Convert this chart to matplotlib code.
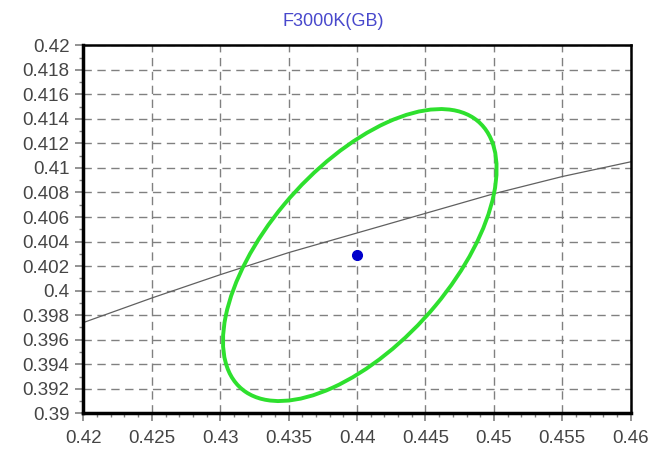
import matplotlib
matplotlib.use("Agg")
import matplotlib.pyplot as plt
from matplotlib.patches import Ellipse
from matplotlib.ticker import MultipleLocator
import numpy as np

# locus line
locus_x = [0.42, 0.425, 0.43, 0.435, 0.44, 0.445, 0.45, 0.455, 0.46]
locus_y = [0.3974, 0.3994, 0.4013, 0.4031, 0.4047, 0.4063, 0.4079, 0.4093, 0.4105]

# measured point
point_x = [0.4400]
point_y = [0.4029]

# tolerance ellipse: centre, half ranges in x / y, correlation
ell_center = (0.4402, 0.4029)
ell_half_x = 0.0100
ell_half_y = 0.0119
ell_corr = 0.59

plt.rcParams['font.family'] = ['Liberation Sans', 'DejaVu Sans']

fig = plt.figure(figsize=(6.52, 4.62), dpi=100)
ax = fig.add_axes([0.128, 0.1054, 0.8393, 0.7966])

# ellipse axes from the 2x2 shape matrix
m = np.array([[ell_half_x ** 2, ell_corr * ell_half_x * ell_half_y],
              [ell_corr * ell_half_x * ell_half_y, ell_half_y ** 2]])
vals, vecs = np.linalg.eigh(m)
ang = np.degrees(np.arctan2(vecs[1, 1], vecs[0, 1]))
ell = Ellipse(ell_center, 2 * np.sqrt(vals[1]), 2 * np.sqrt(vals[0]), angle=ang,
              fill=False, edgecolor="#2ee02e", lw=2.8, zorder=3)
ax.add_patch(ell)

ax.plot(locus_x, locus_y, color="#606060", lw=0.9, zorder=2)
ax.plot(point_x, point_y, "o", color="#0000cc", ms=7, zorder=4)

ax.set_xlim(0.42, 0.46)
ax.set_ylim(0.39, 0.42)
ax.xaxis.set_major_locator(MultipleLocator(0.005))
ax.xaxis.set_minor_locator(MultipleLocator(0.001))
ax.yaxis.set_major_locator(MultipleLocator(0.002))
ax.yaxis.set_minor_locator(MultipleLocator(0.001))


def fmt(v, pos):
    return f"{v:.3f}".rstrip("0").rstrip(".")


ax.xaxis.set_major_formatter(plt.FuncFormatter(fmt))
ax.yaxis.set_major_formatter(plt.FuncFormatter(fmt))

ax.grid(True, which="major", color="#808080", linestyle=(0, (6, 4)), lw=1.0)
ax.tick_params(which="both", direction="out", colors="#808080", labelcolor="#454545",
               labelsize=13.5, top=False, right=False)
ax.tick_params(which="major", length=6, width=1.2)
ax.tick_params(which="minor", length=3, width=1.0)
ax.tick_params(axis="x", pad=6)
ax.tick_params(axis="y", pad=4)

for side in ["left", "bottom"]:
    ax.spines[side].set_linewidth(2.5)
for side in ["top", "right"]:
    ax.spines[side].set_linewidth(1.8)
for sp in ax.spines.values():
    sp.set_color("black")

fig.text(333 / 652, 1 - 21 / 462, "F3000K(GB)", color="#4848cc", fontsize=13,
         ha="center", va="center")

fig.savefig("out.png", dpi=100)
